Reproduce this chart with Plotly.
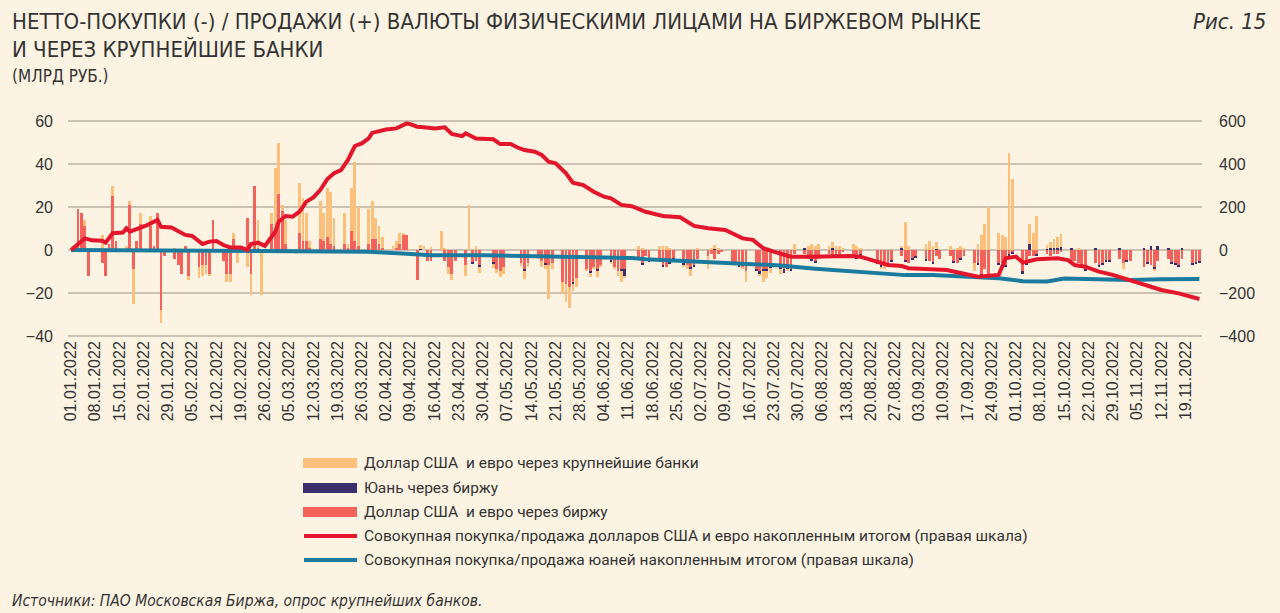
import pandas as pd
import plotly.graph_objects as go

# ---------------- data (billion RUB) ----------------
trade_days = pd.bdate_range("2022-01-03", "2022-11-23")

# USD & EUR via exchange (left axis)
usd_eur_exchange = [
    19, 17, 11, -12, 0,      # Jan 3-7
    -6, -12, 3, 25, 4,       # Jan 10-14
    0, 21, -9, 4, 12,        # Jan 17-21
    11, 2, 17, -28, -3,      # Jan 24-28
    -4, -7, -11, 2, -12,     # Jan 31-Feb 4
    -8, -7, -7, -11, 14,     # Feb 7-11
    -5, -11, -11, 5, 0,      # Feb 14-18
    15, -11, 30, 1, 0,       # Feb 21-25
    12, 8, 26, 18, 3,        # Feb 28-Mar 4
    0, 8, 4, 4, 1,           # Mar 7-11
    5, 4, 6, 3, 2,           # Mar 14-18
    3, 1, 9, 4, 2,           # Mar 21-25
    3, 5, 5, 3, 1,           # Mar 28-Apr 1
    0, 1, 3, 7, 7,           # Apr 4-8
    -14, 0, 0, -5, -5,       # Apr 11-15
    0, -5, -8, -11, -5,      # Apr 18-22
    -7, 0, -6, -5, -7,       # Apr 25-29
    0, -6, -9, -10, -8,      # May 2-6
    0, 0, -6, -9, -6,        # May 9-13
    -3, -5, -6, -7, -6,      # May 16-20
    -15, -16, -17, -15, -13, # May 23-27
    -9, -10, -8, -9, -7,     # May 30-Jun 3
    -5, -8, -10, -9, -9,     # Jun 6-10
    0, -4, -6, -3, -5,       # Jun 13-17
    -5, -7, -8, -6, -4,      # Jun 20-24
    -6, -7, -8, -7, -4,      # Jun 27-Jul 1
    -3, -2, -4, -2, -1,      # Jul 4-8
    -7, -6, -7, -8, -10,     # Jul 11-15
    -9, -10, -9, -9, -8,     # Jul 18-22
    -8, -9, -8, -9, -2,      # Jul 25-29
    -2, -4, -4, -5, -4,      # Aug 1-5
    -2, -3, -2, -3, -1,      # Aug 8-12
    -3, -3, -2, 0, 0,        # Aug 15-19
    -6, -7, -7, -6, -5,      # Aug 22-26
    -3, -5, -6, -4, -3,      # Aug 29-Sep 2
    -4, -5, -6, -3, -4,      # Sep 5-9
    -3, -5, -6, -4, -3,      # Sep 12-16
    -6, -6, -11, -9, -11,    # Sep 19-23
    -6, -6, -7, -2, -1,      # Sep 26-30
    -10, -6, -3, -3, -2,     # Oct 3-7
    -2, -3, -2, -2, -1,      # Oct 10-14
    -5, -5, -6, -7, -9,      # Oct 17-21
    -6, -7, -6, -5, -5,      # Oct 24-28
    -4, -6, -5, -5, 0,       # Oct 31-Nov 4
    -8, -6, -7, -8, -5,      # Nov 7-11
    -4, -6, -6, -7, -4,      # Nov 14-18
    -6, -6, -5,              # Nov 21-23
]

# Yuan via exchange (left axis)
yuan_exchange = [
    0, 0, 0, 0, 0,  0, 0, 0, 0, 0,  0, 0, 0, 0, 0,  0, 0, 0, 0, 0,  0, 0, 0, 0, 0,
    0, 0, 0, 0, 0,  0, 0, 0, 0, 0,  0, 0, 0, 0, 0,  0, 0, 0, 0, 0,  0, 0, 0, 0, 0,
    0, 0, 0, 0, 0,  0, 0, 0, 0, 0,  0, 0, 0, 0, 0,  0, 0, 0, 0, 0,   # Jan 3 - Apr 8
    0, 0.5, 0, 0, 0,          # Apr 11-15
    0, 0, 0, 0, 0,            # Apr 18-22
    0, 0, -0.5, 0, -1,        # Apr 25-29
    0, -0.5, 0, 0, 0,         # May 2-6
    0, 0, 0, -1, 0,           # May 9-13
    0, 0, -1, 0, 0,           # May 16-20
    0, 0, 0, -1, 0,           # May 23-27
    0, -0.5, 0, -0.8, 0,      # May 30-Jun 3
    -0.5, 0, 0, -1, -3,       # Jun 6-10
    0, -0.5, -1, 0, -0.5,     # Jun 13-17
    0, -1, 0, -0.5, -0.5,     # Jun 20-24
    -1, 0, -1, -0.5, 0,       # Jun 27-Jul 1
    0, 0, 0.5, 0, 0,          # Jul 4-8
    0, 0, -0.5, 0, 0,         # Jul 11-15
    -1, -1, -1, -1, -0.5,     # Jul 18-22
    -1, -1.5, -1, -1, 0,      # Jul 25-29
    0.8, 0, -1, -1, 0,        # Aug 1-5
    0, 0.8, -1, -0.5, 0,      # Aug 8-12
    0, -1, -1, 0, 0,          # Aug 15-19
    -0.5, -1, 0, -1, -0.5,    # Aug 22-26
    1, -0.5, 0, -0.5, -0.5,   # Aug 29-Sep 2
    -1, 0, -0.5, 0.5, 0,      # Sep 5-9
    0, -1, 0, -0.5, 0,        # Sep 12-16
    0, -1, -1, 0, -1,         # Sep 19-23
    -1, 0, -1, -0.5, -0.8,    # Sep 26-30
    -1, -1, 3, 0, -0.5,       # Oct 3-7
    0.5, 0.8, 1, 1, 1.5,      # Oct 10-14
    0.5, 0, 0, -0.5, -1,      # Oct 17-21
    0.5, -0.5, -1, -0.5, -0.5,# Oct 24-28
    0.5, 0, -0.5, 0, 0,       # Oct 31-Nov 4
    1, -0.5, 2, -0.8, 2,      # Nov 7-11
    1, -0.5, -1, -1, 0.5,     # Nov 14-18
    -1, -0.5, -1,             # Nov 21-23
]

# USD & EUR via largest banks (left axis)
usd_eur_banks = [
    0, 0, 3, 0, 0,            # Jan 3-7
    7, 0, 0, 5, 0,            # Jan 10-14
    2, 2, -16, 0, 5,          # Jan 17-21
    5, 0, 0, -6, 0,           # Jan 24-28
    1, 0, 0, 0, -2,           # Jan 31-Feb 4
    -5, -5, -4, -1, 0,        # Feb 7-11
    0, -4, -4, 3, -6,         # Feb 14-18
    -8, -10, 0, 13, -21,      # Feb 21-25
    5, 30, 24, 3, 11,         # Feb 28-Mar 4
    -2, 23, 20, 13, 3,        # Mar 7-11
    18, 13, 23, 24, 13,       # Mar 14-18
    14, 2, 20, 37, 18,        # Mar 21-25
    16, 18, 10, 8, 5,         # Mar 28-Apr 1
    2, 3, 5, 1, 0,            # Apr 4-8
    0, 2, 2, 0, 1.5,          # Apr 11-15
    9, 1, -3, -3, 0,          # Apr 18-22
    -5, 21, 0, 2, -2.5,       # Apr 25-29
    0, -2, -1.5, -2.5, -3,    # May 2-6
    0, 0, -1.5, -3.5, -2,     # May 9-13
    -1, -3, -2, -16, -3,      # May 16-20
    -5, -8, -10, -3, -4,      # May 23-27
    -1, -2, -1, -3, -1,       # May 30-Jun 3
    -1, -1, -2, -5, -1,       # Jun 6-10
    0, 2, 1, 0, 0,            # Jun 13-17
    2, 2, 2, 1, 0,            # Jun 20-24
    -1, -2, -3, 0, 1,         # Jun 27-Jul 1
    -6, 1, 2, 1, 0,           # Jul 4-8
    0, -1, 0, -1, -5,         # Jul 11-15
    0, -1, -5, -3, -2,        # Jul 18-22
    -2, 0, -1, 0, 3,          # Jul 25-29
    0, 2, 3, 2, 3,            # Aug 1-5
    2, 3, 2, 2, 1,            # Aug 8-12
    3, 2, 1, 0, 0,            # Aug 15-19
    0, -1, -2, -1, 0,         # Aug 22-26
    1, 13, 2, 0, 0,           # Aug 29-Sep 2
    3, 4, 2, 3, 0,            # Sep 5-9
    2, 0, 1, 2, 1,            # Sep 12-16
    -4, 3, 7, 12, 20,         # Sep 19-23
    8, 7, 6, 45, 33,          # Sep 26-30
    0, 0, 9, 8, 16,           # Oct 3-7
    2, 3, 4, 5, 6,            # Oct 10-14
    0, 0, 1, 0, 0,            # Oct 17-21
    0, 0, 0, 0, 0,            # Oct 24-28
    0, -3, 0, 0, 0,           # Oct 31-Nov 4
    0, 0, 0, -1, 0,           # Nov 7-11
    0, 0, 0, 0, 0,            # Nov 14-18
    0, 0, 0,                  # Nov 21-23
]

# Cumulative USD & EUR (right axis)
cum_usd_dates = [
    "2022-01-01", "2022-01-05", "2022-01-07", "2022-01-10", "2022-01-11", "2022-01-13",
    "2022-01-16", "2022-01-17", "2022-01-18", "2022-01-21", "2022-01-23", "2022-01-26",
    "2022-01-27", "2022-01-30", "2022-02-01", "2022-02-03", "2022-02-05", "2022-02-08",
    "2022-02-10", "2022-02-12", "2022-02-14", "2022-02-16", "2022-02-19", "2022-02-21",
    "2022-02-22", "2022-02-24", "2022-02-26", "2022-02-27", "2022-03-01", "2022-03-02",
    "2022-03-04", "2022-03-06", "2022-03-08", "2022-03-10", "2022-03-12", "2022-03-14",
    "2022-03-16", "2022-03-18", "2022-03-20", "2022-03-22", "2022-03-24", "2022-03-26",
    "2022-03-28", "2022-03-29", "2022-04-02", "2022-04-05", "2022-04-08", "2022-04-09",
    "2022-04-11", "2022-04-13", "2022-04-16", "2022-04-19", "2022-04-21", "2022-04-24",
    "2022-04-25", "2022-04-28", "2022-04-30", "2022-05-03", "2022-05-05", "2022-05-08",
    "2022-05-10", "2022-05-12", "2022-05-15", "2022-05-17", "2022-05-19", "2022-05-21",
    "2022-05-24", "2022-05-26", "2022-05-29", "2022-06-01", "2022-06-04", "2022-06-06",
    "2022-06-09", "2022-06-12", "2022-06-16", "2022-06-21", "2022-06-26", "2022-06-30",
    "2022-07-04", "2022-07-09", "2022-07-11", "2022-07-14", "2022-07-17", "2022-07-20",
    "2022-07-23", "2022-07-26", "2022-07-28", "2022-08-02", "2022-08-08", "2022-08-14",
    "2022-08-17", "2022-08-21", "2022-08-25", "2022-08-29", "2022-08-31", "2022-09-11",
    "2022-09-16", "2022-09-20", "2022-09-26", "2022-09-28", "2022-10-01", "2022-10-03",
    "2022-10-07", "2022-10-13", "2022-10-16", "2022-10-18", "2022-10-21", "2022-10-25",
    "2022-10-29", "2022-11-03", "2022-11-07", "2022-11-12", "2022-11-17", "2022-11-23",
]
cum_usd = [
    0, 54, 45, 43, 34, 78,
    81, 101, 85, 101, 116, 140,
    108, 105, 90, 70, 65, 28,
    39, 42, 23, 12, 12, 0,
    28, 34, 19, 39, 85, 132,
    158, 155, 178, 225, 245, 279,
    329, 357, 372, 419, 484, 496,
    520, 545, 561, 566, 589, 586,
    574, 571, 566, 571, 540, 530,
    543, 519, 519, 515, 493, 493,
    477, 465, 457, 442, 411, 403,
    357, 313, 302, 271, 248, 240,
    210, 204, 178, 158, 152, 112,
    101, 93, 78, 54, 47, 8,
    -8, -23, -31, -31, -28, -28,
    -31, -50, -70, -75, -85, -93,
    -109, -124, -116, -39, -31, -59,
    -43, -39, -47, -70, -78, -101,
    -116, -140, -163, -186, -202, -228,
]

# Cumulative yuan (right axis)
cum_cny_dates = [
    "2022-01-01", "2022-02-20", "2022-03-15", "2022-03-28", "2022-04-08", "2022-04-15",
    "2022-05-01", "2022-05-20", "2022-06-12", "2022-06-16", "2022-06-26", "2022-07-06",
    "2022-07-16", "2022-07-25", "2022-08-04", "2022-08-14", "2022-08-23", "2022-08-30",
    "2022-09-07", "2022-09-16", "2022-09-21", "2022-09-26", "2022-10-03", "2022-10-10",
    "2022-10-15", "2022-10-25", "2022-11-03", "2022-11-12", "2022-11-23",
]
cum_cny = [
    0, -2, -5, -8, -18, -24,
    -25, -30, -37, -43, -50, -57,
    -62, -72, -87, -100, -110, -117,
    -116, -124, -129, -132, -145, -147,
    -133, -135, -140, -136, -135,
]

tick_dates = pd.date_range("2022-01-01", "2022-11-19", freq="7D")
tick_text = [d.strftime("%d.%m.%Y") for d in tick_dates]

names = [
    "Доллар США  и евро через крупнейшие банки",
    "Юань через биржу",
    "Доллар США  и евро через биржу",
    "Совокупная покупка/продажа долларов США и евро накопленным итогом (правая шкала)",
    "Совокупная покупка/продажа юаней накопленным итогом (правая шкала)",
]

# ---------------- style ----------------
BG = "#fdf3e3"
C_ORANGE = "#fdc07c"
C_NAVY = "#3a2f6c"
C_RED = "#f4635b"
C_REDLINE = "#e3162c"
C_TEAL = "#1b7b9e"
GRID = "#cbc2b4"
TXT = "#333333"
NARROW = "Liberation Sans Narrow, DejaVu Sans Condensed, Roboto, sans-serif"
AX_FONT = "Liberation Sans, Arial, sans-serif"
LEG_FONT = "Roboto, Noto Sans, sans-serif"

W, H = 1280, 613
X0, X1, Y0, Y1 = 68, 1202, 120, 337  # plot area in pixels


def px(x):
    return (x - X0) / (X1 - X0)


def py(y):
    return (Y1 - y) / (Y1 - Y0)


bar_w = 0.8 * 86400000

fig = go.Figure()
fig.add_trace(go.Bar(x=trade_days, y=usd_eur_exchange, name=names[2], marker_color=C_RED,
                     marker_line_width=0, width=bar_w, showlegend=False))
fig.add_trace(go.Bar(x=trade_days, y=yuan_exchange, name=names[1], marker_color=C_NAVY,
                     marker_line_width=0, width=bar_w, showlegend=False))
fig.add_trace(go.Bar(x=trade_days, y=usd_eur_banks, name=names[0], marker_color=C_ORANGE,
                     marker_line_width=0, width=bar_w, showlegend=False))
fig.add_trace(go.Scatter(x=pd.to_datetime(cum_cny_dates), y=cum_cny, yaxis="y2", mode="lines",
                         line=dict(color=C_TEAL, width=4), name=names[4], showlegend=False))
fig.add_trace(go.Scatter(x=pd.to_datetime(cum_usd_dates), y=cum_usd, yaxis="y2", mode="lines",
                         line=dict(color=C_REDLINE, width=4), name=names[3], showlegend=False))

fig.update_layout(
    width=W, height=H,
    paper_bgcolor=BG, plot_bgcolor=BG,
    margin=dict(l=X0, r=W - X1, t=Y0, b=H - Y1, pad=0),
    barmode="relative",
    bargap=0,
    showlegend=False,
    xaxis=dict(
        type="date",
        range=["2021-12-31 03:00", "2022-11-23 18:00"],
        tickvals=tick_dates, ticktext=tick_text,
        tickangle=-90, tickfont=dict(family=AX_FONT, size=16, color=TXT),
        showgrid=False, zeroline=False, showline=False, ticks="",
    ),
    yaxis=dict(
        range=[-40.5, 60.5], tickvals=[-40, -20, 0, 20, 40, 60],
        showgrid=True, gridcolor=GRID, gridwidth=1.5,
        zeroline=True, zerolinecolor=GRID, zerolinewidth=1.5,
        showline=False, ticks="", ticklabelstandoff=14,
        tickfont=dict(family=AX_FONT, size=16, color=TXT),
    ),
    yaxis2=dict(
        range=[-405, 605], tickvals=[-400, -200, 0, 200, 400, 600],
        overlaying="y", side="right", showgrid=False, zeroline=False,
        showline=False, ticks="", ticklabelstandoff=16,
        tickfont=dict(family=AX_FONT, size=16, color=TXT),
    ),
)

annotations = [
    dict(text="НЕТТО-ПОКУПКИ (-) / ПРОДАЖИ (+) ВАЛЮТЫ ФИЗИЧЕСКИМИ ЛИЦАМИ НА БИРЖЕВОМ РЫНКЕ",
         x=px(10), y=py(22), font=dict(family=NARROW, size=22, color=TXT), xanchor="left"),
    dict(text="И ЧЕРЕЗ КРУПНЕЙШИЕ БАНКИ",
         x=px(10), y=py(49), font=dict(family=NARROW, size=22, color=TXT), xanchor="left"),
    dict(text="(МЛРД РУБ.)",
         x=px(10), y=py(76), font=dict(family=NARROW, size=17, color=TXT), xanchor="left"),
    dict(text="<i>Рис. 15</i>",
         x=px(1268), y=py(22), font=dict(family=NARROW, size=22, color=TXT), xanchor="right"),
    dict(text="<i>Источники: ПАО Московская Биржа, опрос крупнейших банков.</i>",
         x=px(10), y=py(601), font=dict(family=NARROW, size=15.5, color=TXT), xanchor="left"),
]
for a in annotations:
    a.update(xref="paper", yref="paper", yanchor="middle", showarrow=False)

shapes = []
leg_y = [463, 488, 512, 536, 560]
swatch = [("rect", C_ORANGE), ("rect", C_NAVY), ("rect", C_RED), ("line", C_REDLINE), ("line", C_TEAL)]
for (kind, col), yy, nm in zip(swatch, leg_y, names):
    if kind == "rect":
        shapes.append(dict(type="rect", xref="paper", yref="paper",
                           x0=px(303), x1=px(357), y0=py(yy + 5), y1=py(yy - 5),
                           fillcolor=col, line=dict(width=0)))
    else:
        shapes.append(dict(type="line", xref="paper", yref="paper",
                           x0=px(304), x1=px(357), y0=py(yy), y1=py(yy),
                           line=dict(color=col, width=4)))
    annotations.append(dict(text=nm, x=px(362), y=py(yy), xref="paper", yref="paper",
                            xanchor="left", yanchor="middle", showarrow=False,
                            font=dict(family=LEG_FONT, size=15.5, color=TXT)))

fig.update_layout(annotations=annotations, shapes=shapes)
fig.write_html(
    "out.html",
    config={"displayModeBar": False},
    post_script="document.body.style.margin='0';document.body.style.overflow='hidden';",
)
